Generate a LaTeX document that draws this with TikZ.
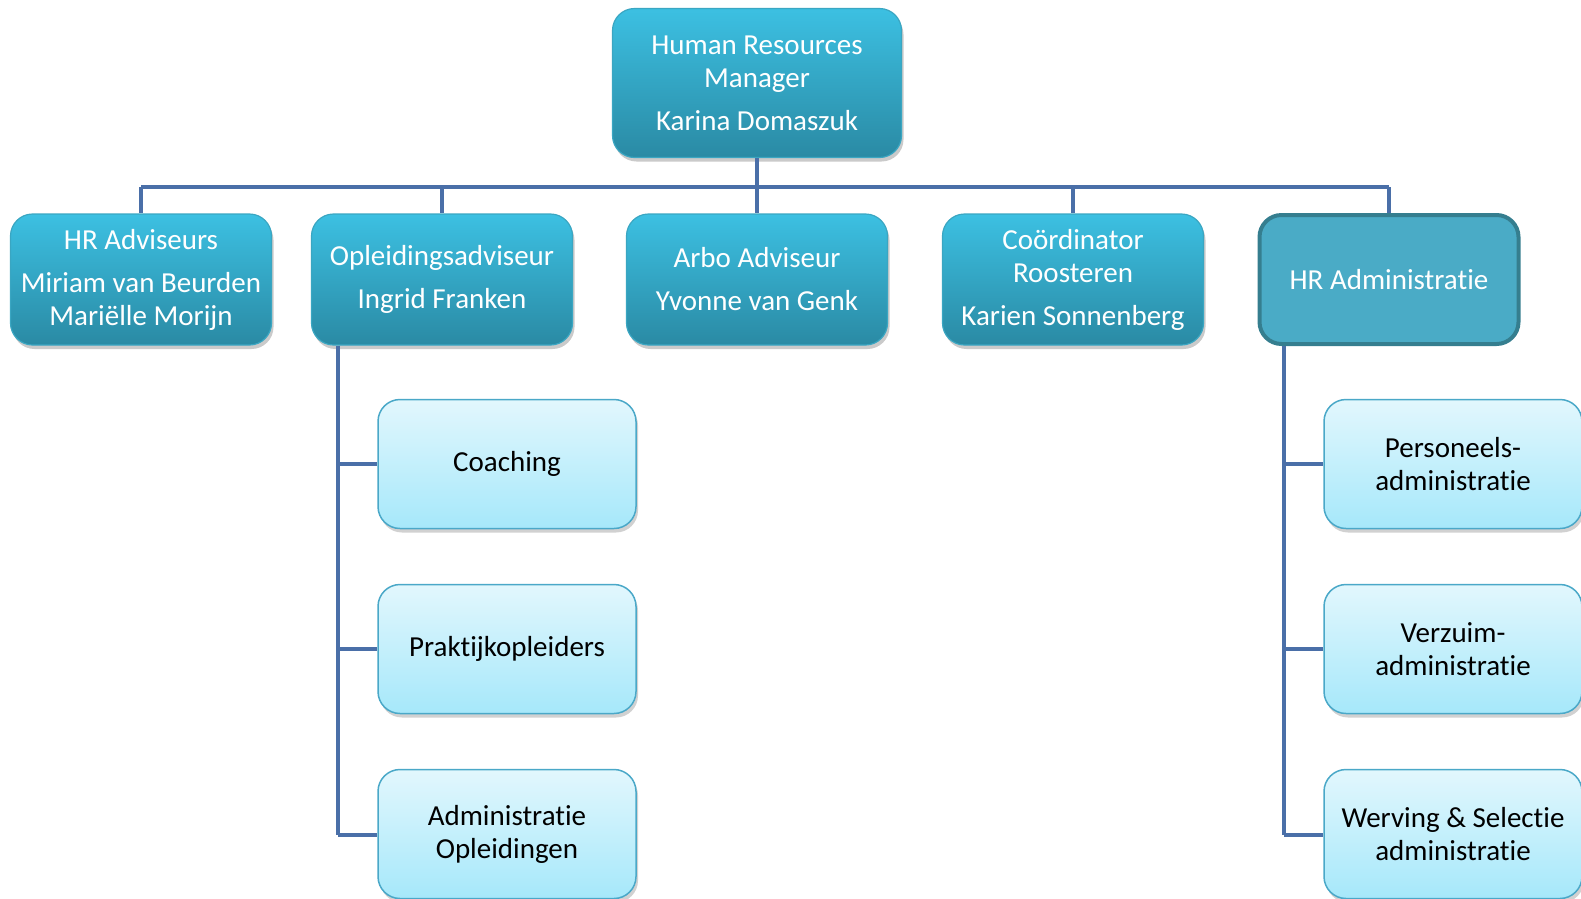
\documentclass[tikz,border=0pt]{standalone}
\usepackage{fontspec}
\setmainfont{Carlito}[Ligatures=CommonOff]
\usetikzlibrary{shadows}
\definecolor{linec}{HTML}{4A6FA8}
\definecolor{darktop}{HTML}{3CC0E2}
\definecolor{darkbot}{HTML}{2A8AA4}
\definecolor{darkedge}{HTML}{3AA6C2}
\definecolor{admfill}{HTML}{4AABC6}
\definecolor{admedge}{HTML}{357E8F}
\definecolor{lighttop}{HTML}{E2F7FD}
\definecolor{lightbot}{HTML}{A6E8FA}
\definecolor{lightedge}{HTML}{4AA8C8}
\tikzset{
  x=1pt, y=-1pt,
  every node/.style={font=\fontsize{29}{33}\selectfont, align=center},
  conn/.style={draw=linec, line width=4.5pt},
  darkbox/.style={rounded corners=22pt, draw=darkedge, line width=1.2pt, top color=darktop, bottom color=darkbot, text=white,
    minimum width=261pt, minimum height=131pt, inner sep=0pt,
    drop shadow={shadow xshift=2pt, shadow yshift=-4pt, opacity=0.35, fill=black!60}},
  admbox/.style={rounded corners=22pt, draw=admedge, line width=4pt, fill=admfill, text=white,
    minimum width=259pt, minimum height=129pt, inner sep=0pt},
  lightbox/.style={rounded corners=22pt, draw=lightedge, line width=1.5pt, top color=lighttop, bottom color=lightbot, text=black,
    minimum width=258pt, minimum height=129pt, inner sep=0pt,
    drop shadow={shadow xshift=2pt, shadow yshift=-4pt, opacity=0.3, fill=black!60}},
}
\begin{document}
\begin{tikzpicture}
\useasboundingbox (0,0) rectangle (1581,898);
\clip (0,0) rectangle (1581,898);
\coordinate (bar) at (757,187);
\coordinate (b1) at (141,187);
\coordinate (b2) at (442,187);
\coordinate (b4) at (1073,187);
\coordinate (b5) at (1389,187);
\coordinate (lv) at (338,835);
\coordinate (rv) at (1284,835);
% nodes
\node[darkbox, minimum width=289pt, minimum height=149pt] (top) at (757,83) {Human Resources\\Manager\\[10pt]Karina Domaszuk};
\node[darkbox] (hra) at (141,279.5) {HR Adviseurs\\[10pt]Miriam van Beurden\\Mariëlle Morijn};
\node[darkbox] (opl) at (442,279.5) {Opleidingsadviseur\\[10pt]Ingrid Franken};
\node[darkbox] (arbo) at (757,279.5) {Arbo Adviseur\\[10pt]Yvonne van Genk};
\node[darkbox] (coo) at (1073,279.5) {Coördinator\\Roosteren\\[10pt]Karien Sonnenberg};
\node[admbox] (adm) at (1389,279.5) {HR Administratie};
\node[lightbox] (coach) at (507,464) {Coaching};
\node[lightbox] (prak) at (507,649) {Praktijkopleiders};
\node[lightbox] (adop) at (507,834) {Administratie\\Opleidingen};
\node[lightbox] (pers) at (1453,464) {Personeels-\\administratie};
\node[lightbox] (verz) at (1453,649) {Verzuim-\\administratie};
\node[lightbox] (werv) at (1453,834) {Werving \& Selectie\\administratie};
% connectors
\draw[conn] (top.south) -- (bar);
\draw[conn] (b1) -- (b5);
\draw[conn] (b1) -- (hra.north);
\draw[conn] (b2) -- (opl.north);
\draw[conn] (bar) -- (arbo.north);
\draw[conn] (b4) -- (coo.north);
\draw[conn] (b5) -- (adm.north);
\draw[conn] (opl.south west -| lv) -- (lv);
\draw[conn] (lv |- coach.west) -- (coach.west);
\draw[conn] (lv |- prak.west) -- (prak.west);
\draw[conn] (lv) -- (adop.west |- lv);
\draw[conn] (adm.south west -| rv) -- (rv);
\draw[conn] (rv |- pers.west) -- (pers.west);
\draw[conn] (rv |- verz.west) -- (verz.west);
\draw[conn] (rv) -- (werv.west |- rv);
\end{tikzpicture}
\end{document}
